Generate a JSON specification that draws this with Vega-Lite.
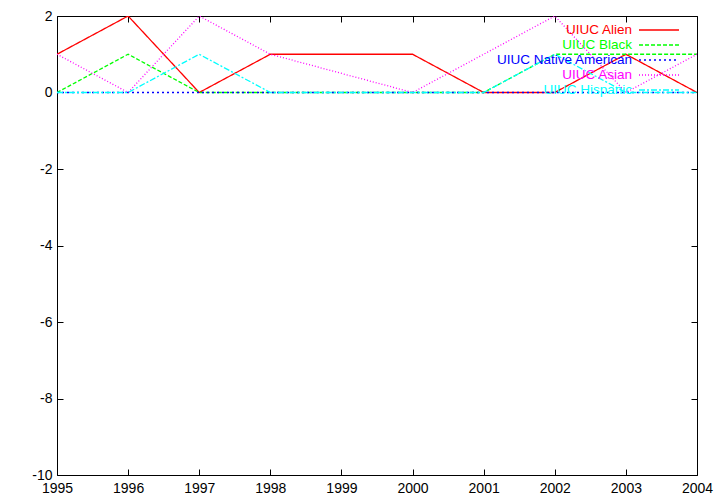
{
  "$schema": "https://vega.github.io/schema/vega-lite/v6.json",
  "autosize": "none",
  "width": 640,
  "height": 459,
  "padding": {"left": 57, "top": 16, "right": 23, "bottom": 29},
  "background": "white",
  "config": {
    "font": "Liberation Sans",
    "view": {"stroke": "black", "strokeWidth": 1},
    "axis": {"grid": false, "domain": false, "tickColor": "black", "tickSize": -6, "labelColor": "black", "labelFontSize": 14, "labelFont": "Liberation Sans", "ticks": true}
  },
  "data": {"values": [
    {"year": 1995, "series": "UIUC Alien", "value": 1},
    {"year": 1996, "series": "UIUC Alien", "value": 2},
    {"year": 1997, "series": "UIUC Alien", "value": 0},
    {"year": 1998, "series": "UIUC Alien", "value": 1},
    {"year": 2000, "series": "UIUC Alien", "value": 1},
    {"year": 2001, "series": "UIUC Alien", "value": 0},
    {"year": 2002, "series": "UIUC Alien", "value": 0},
    {"year": 2003, "series": "UIUC Alien", "value": 1},
    {"year": 2004, "series": "UIUC Alien", "value": 0},
    {"year": 1995, "series": "UIUC Black", "value": 0},
    {"year": 1996, "series": "UIUC Black", "value": 1},
    {"year": 1997, "series": "UIUC Black", "value": 0},
    {"year": 1998, "series": "UIUC Black", "value": 0},
    {"year": 2000, "series": "UIUC Black", "value": 0},
    {"year": 2001, "series": "UIUC Black", "value": 0},
    {"year": 2002, "series": "UIUC Black", "value": 1},
    {"year": 2003, "series": "UIUC Black", "value": 1},
    {"year": 2004, "series": "UIUC Black", "value": 1},
    {"year": 1995, "series": "UIUC Native American", "value": 0},
    {"year": 1996, "series": "UIUC Native American", "value": 0},
    {"year": 1997, "series": "UIUC Native American", "value": 0},
    {"year": 1998, "series": "UIUC Native American", "value": 0},
    {"year": 2000, "series": "UIUC Native American", "value": 0},
    {"year": 2001, "series": "UIUC Native American", "value": 0},
    {"year": 2002, "series": "UIUC Native American", "value": 0},
    {"year": 2003, "series": "UIUC Native American", "value": 0},
    {"year": 2004, "series": "UIUC Native American", "value": 0},
    {"year": 1995, "series": "UIUC Asian", "value": 1},
    {"year": 1996, "series": "UIUC Asian", "value": 0},
    {"year": 1997, "series": "UIUC Asian", "value": 2},
    {"year": 1998, "series": "UIUC Asian", "value": 1},
    {"year": 2000, "series": "UIUC Asian", "value": 0},
    {"year": 2001, "series": "UIUC Asian", "value": 1},
    {"year": 2002, "series": "UIUC Asian", "value": 2},
    {"year": 2003, "series": "UIUC Asian", "value": 0},
    {"year": 2004, "series": "UIUC Asian", "value": 1},
    {"year": 1995, "series": "UIUC Hispanic", "value": 0},
    {"year": 1996, "series": "UIUC Hispanic", "value": 0},
    {"year": 1997, "series": "UIUC Hispanic", "value": 1},
    {"year": 1998, "series": "UIUC Hispanic", "value": 0},
    {"year": 2000, "series": "UIUC Hispanic", "value": 0},
    {"year": 2001, "series": "UIUC Hispanic", "value": 0},
    {"year": 2002, "series": "UIUC Hispanic", "value": 1},
    {"year": 2003, "series": "UIUC Hispanic", "value": 0},
    {"year": 2004, "series": "UIUC Hispanic", "value": 0}
  ]},
  "layer": [
    {
      "mark": {"type": "line", "strokeWidth": 1.3, "clip": true},
      "encoding": {
        "x": {"field": "year", "type": "quantitative", "scale": {"domain": [1995, 2004], "nice": false, "zero": false},
              "axis": {"title": null, "orient": "bottom", "values": [1995,1996,1997,1998,1999,2000,2001,2002,2003,2004], "format": "d", "labelPadding": 12, "labelFlush": false}},
        "y": {"field": "value", "type": "quantitative", "scale": {"domain": [-10, 2], "nice": false, "zero": false},
              "axis": {"title": null, "orient": "left", "values": [-10,-8,-6,-4,-2,0,2], "labelPadding": 11, "labelExpr": "replace(datum.label, '\u2212', '-')"}},
        "color": {"field": "series", "type": "nominal",
          "scale": {"domain": ["UIUC Alien", "UIUC Black", "UIUC Native American", "UIUC Asian", "UIUC Hispanic"],
                    "range": ["#ff0000", "#00ff00", "#0000ff", "#ff00ff", "#00ffff"]},
          "legend": {"title": null, "orient": "none", "legendX": 594, "legendY": 6, "symbolType": "M-2.857,0H2.857", "symbolSize": 196, "symbolStrokeWidth": 1.5,
                     "symbolFillColor": "transparent", "rowPadding": 0,
                     "labelAlign": "right", "labelOffset": -35, "labelFontSize": 13.5, "labelFont": "Liberation Sans", "labelLimit": 300,
                     "labelColor": {"expr": "scale('color', datum.value)"}}},
        "strokeDash": {"field": "series", "type": "nominal",
          "scale": {"domain": ["UIUC Alien", "UIUC Black", "UIUC Native American", "UIUC Asian", "UIUC Hispanic"],
                    "range": [[1, 0], [4, 2], [2, 3], [1, 2], [6, 2, 2, 2]]},
          "legend": null}
      }
    },
    {
      "mark": {"type": "point", "opacity": 0},
      "encoding": {
        "x": {"field": "year", "type": "quantitative", "axis": {"orient": "top", "labels": false, "title": null, "values": [1995,1996,1997,1998,1999,2000,2001,2002,2003,2004]}},
        "y": {"field": "value", "type": "quantitative", "axis": {"orient": "right", "labels": false, "title": null, "values": [-10,-8,-6,-4,-2,0,2]}}
      }
    }
  ],
  "resolve": {"axis": {"x": "independent", "y": "independent"}}
}
